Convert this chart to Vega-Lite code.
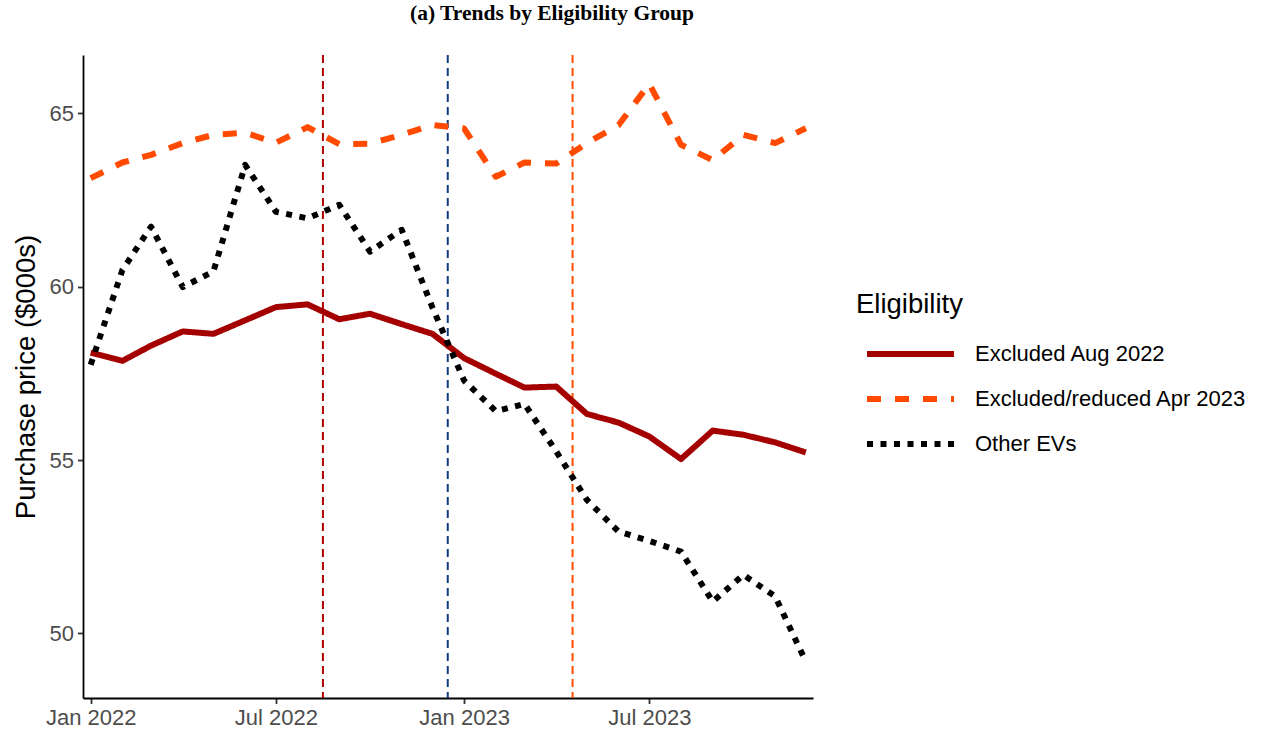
{
  "$schema": "https://vega.github.io/schema/vega-lite/v6.json",
  "width": 730,
  "height": 643,
  "autosize": {"type": "none"},
  "padding": {"left": 83, "top": 55, "right": 465, "bottom": 37},
  "background": "white",
  "config": {"view": {"stroke": null}, "font": "Liberation Sans"},
  "title": {
    "text": "(a) Trends by Eligibility Group",
    "font": "Liberation Serif",
    "fontSize": 21.5,
    "fontWeight": "bold",
    "color": "black",
    "anchor": "middle",
    "frame": "group",
    "dx": 104,
    "baseline": "alphabetic",
    "offset": 13
  },
  "datasets": {
    "series": [
      {"date": "2022-01-01", "group": "Excluded Aug 2022", "price": 58.10},
      {"date": "2022-02-01", "group": "Excluded Aug 2022", "price": 57.86},
      {"date": "2022-03-01", "group": "Excluded Aug 2022", "price": 58.30},
      {"date": "2022-04-01", "group": "Excluded Aug 2022", "price": 58.71},
      {"date": "2022-05-01", "group": "Excluded Aug 2022", "price": 58.64},
      {"date": "2022-06-01", "group": "Excluded Aug 2022", "price": 59.03},
      {"date": "2022-07-01", "group": "Excluded Aug 2022", "price": 59.41},
      {"date": "2022-08-01", "group": "Excluded Aug 2022", "price": 59.49},
      {"date": "2022-09-01", "group": "Excluded Aug 2022", "price": 59.06},
      {"date": "2022-10-01", "group": "Excluded Aug 2022", "price": 59.22},
      {"date": "2022-11-01", "group": "Excluded Aug 2022", "price": 58.92},
      {"date": "2022-12-01", "group": "Excluded Aug 2022", "price": 58.64},
      {"date": "2023-01-01", "group": "Excluded Aug 2022", "price": 57.94},
      {"date": "2023-02-01", "group": "Excluded Aug 2022", "price": 57.49},
      {"date": "2023-03-01", "group": "Excluded Aug 2022", "price": 57.09},
      {"date": "2023-04-01", "group": "Excluded Aug 2022", "price": 57.12},
      {"date": "2023-05-01", "group": "Excluded Aug 2022", "price": 56.33},
      {"date": "2023-06-01", "group": "Excluded Aug 2022", "price": 56.08},
      {"date": "2023-07-01", "group": "Excluded Aug 2022", "price": 55.68},
      {"date": "2023-08-01", "group": "Excluded Aug 2022", "price": 55.03},
      {"date": "2023-09-01", "group": "Excluded Aug 2022", "price": 55.85},
      {"date": "2023-10-01", "group": "Excluded Aug 2022", "price": 55.73},
      {"date": "2023-11-01", "group": "Excluded Aug 2022", "price": 55.51},
      {"date": "2023-12-01", "group": "Excluded Aug 2022", "price": 55.22},
      {"date": "2022-01-01", "group": "Excluded/reduced Apr 2023", "price": 63.13},
      {"date": "2022-02-01", "group": "Excluded/reduced Apr 2023", "price": 63.58},
      {"date": "2022-03-01", "group": "Excluded/reduced Apr 2023", "price": 63.80},
      {"date": "2022-04-01", "group": "Excluded/reduced Apr 2023", "price": 64.14},
      {"date": "2022-05-01", "group": "Excluded/reduced Apr 2023", "price": 64.38},
      {"date": "2022-06-01", "group": "Excluded/reduced Apr 2023", "price": 64.44},
      {"date": "2022-07-01", "group": "Excluded/reduced Apr 2023", "price": 64.15},
      {"date": "2022-08-01", "group": "Excluded/reduced Apr 2023", "price": 64.60},
      {"date": "2022-09-01", "group": "Excluded/reduced Apr 2023", "price": 64.11},
      {"date": "2022-10-01", "group": "Excluded/reduced Apr 2023", "price": 64.12},
      {"date": "2022-11-01", "group": "Excluded/reduced Apr 2023", "price": 64.38},
      {"date": "2022-12-01", "group": "Excluded/reduced Apr 2023", "price": 64.66},
      {"date": "2023-01-01", "group": "Excluded/reduced Apr 2023", "price": 64.56},
      {"date": "2023-02-01", "group": "Excluded/reduced Apr 2023", "price": 63.17},
      {"date": "2023-03-01", "group": "Excluded/reduced Apr 2023", "price": 63.58},
      {"date": "2023-04-01", "group": "Excluded/reduced Apr 2023", "price": 63.55},
      {"date": "2023-05-01", "group": "Excluded/reduced Apr 2023", "price": 64.14},
      {"date": "2023-06-01", "group": "Excluded/reduced Apr 2023", "price": 64.66},
      {"date": "2023-07-01", "group": "Excluded/reduced Apr 2023", "price": 65.85},
      {"date": "2023-08-01", "group": "Excluded/reduced Apr 2023", "price": 64.09},
      {"date": "2023-09-01", "group": "Excluded/reduced Apr 2023", "price": 63.65},
      {"date": "2023-10-01", "group": "Excluded/reduced Apr 2023", "price": 64.38},
      {"date": "2023-11-01", "group": "Excluded/reduced Apr 2023", "price": 64.14},
      {"date": "2023-12-01", "group": "Excluded/reduced Apr 2023", "price": 64.57},
      {"date": "2022-01-01", "group": "Other EVs", "price": 57.75},
      {"date": "2022-02-01", "group": "Other EVs", "price": 60.48},
      {"date": "2022-03-01", "group": "Other EVs", "price": 61.73},
      {"date": "2022-04-01", "group": "Other EVs", "price": 59.99},
      {"date": "2022-05-01", "group": "Other EVs", "price": 60.44},
      {"date": "2022-06-01", "group": "Other EVs", "price": 63.51},
      {"date": "2022-07-01", "group": "Other EVs", "price": 62.16},
      {"date": "2022-08-01", "group": "Other EVs", "price": 61.97},
      {"date": "2022-09-01", "group": "Other EVs", "price": 62.36},
      {"date": "2022-10-01", "group": "Other EVs", "price": 61.01},
      {"date": "2022-11-01", "group": "Other EVs", "price": 61.64},
      {"date": "2022-12-01", "group": "Other EVs", "price": 59.40},
      {"date": "2023-01-01", "group": "Other EVs", "price": 57.29},
      {"date": "2023-02-01", "group": "Other EVs", "price": 56.41},
      {"date": "2023-03-01", "group": "Other EVs", "price": 56.62},
      {"date": "2023-04-01", "group": "Other EVs", "price": 55.25},
      {"date": "2023-05-01", "group": "Other EVs", "price": 53.85},
      {"date": "2023-06-01", "group": "Other EVs", "price": 52.94},
      {"date": "2023-07-01", "group": "Other EVs", "price": 52.67},
      {"date": "2023-08-01", "group": "Other EVs", "price": 52.36},
      {"date": "2023-09-01", "group": "Other EVs", "price": 50.92},
      {"date": "2023-10-01", "group": "Other EVs", "price": 51.69},
      {"date": "2023-11-01", "group": "Other EVs", "price": 51.07},
      {"date": "2023-12-01", "group": "Other EVs", "price": 49.19}
    ],
    "events": [
      {"date": "2022-08-16", "event": "IRA enacted"},
      {"date": "2022-12-16", "event": "Guidance"},
      {"date": "2023-04-17", "event": "Battery rules"}
    ]
  },
  "encoding": {
    "x": {
      "field": "date",
      "type": "temporal",
      "scale": {
        "type": "utc",
        "domain": [
          {"year": 2021, "month": 12, "date": 24, "hours": 12, "utc": true},
          {"year": 2023, "month": 12, "date": 8, "utc": true}
        ],
        "nice": false
      },
      "axis": {
        "title": null,
        "tickCount": {"interval": "month", "step": 6},
        "labelExpr": "utcFormat(datum.value, '%b %Y')",
        "labelFontSize": 22,
        "labelColor": "#4D4D4D",
        "labelPadding": 4,
        "labelFlush": false,
        "labelOverlap": false,
        "tickSize": 5.5,
        "tickWidth": 1.8,
        "tickColor": "#333333",
        "domainColor": "black",
        "domainWidth": 1.8,
        "grid": false
      }
    }
  },
  "layer": [
    {
      "data": {"name": "events"},
      "transform": [{"filter": {"field": "event", "equal": "IRA enacted"}}],
      "mark": {"type": "rule", "strokeWidth": 2, "strokeDash": [8, 5], "color": "#B00000"},
      "encoding": {}
    },
    {
      "data": {"name": "events"},
      "transform": [{"filter": {"field": "event", "equal": "Guidance"}}],
      "mark": {"type": "rule", "strokeWidth": 2, "strokeDash": [8, 5], "color": "#123A7C"},
      "encoding": {}
    },
    {
      "data": {"name": "events"},
      "transform": [{"filter": {"field": "event", "equal": "Battery rules"}}],
      "mark": {"type": "rule", "strokeWidth": 2, "strokeDash": [8, 5], "color": "#FF4A00"},
      "encoding": {}
    },
    {
      "data": {"name": "series"},
      "mark": {"type": "line", "strokeWidth": 6, "strokeCap": "butt", "strokeJoin": "round"},
      "encoding": {
        "y": {
          "field": "price",
          "type": "quantitative",
          "scale": {"domain": [48.14, 66.68], "nice": false, "zero": false},
          "axis": {
            "values": [50, 55, 60, 65],
            "title": "Purchase price ($000s)",
            "titleFontSize": 27.5,
            "titleFontWeight": "normal",
            "titleColor": "black",
            "titlePadding": 9,
            "labelFontSize": 22,
            "labelColor": "#4D4D4D",
            "labelPadding": 4,
            "tickSize": 5.5,
            "tickWidth": 1.8,
            "tickColor": "#333333",
            "domainColor": "black",
            "domainWidth": 1.8,
            "grid": false
          }
        },
        "color": {
          "field": "group",
          "type": "nominal",
          "scale": {
            "domain": ["Excluded Aug 2022", "Excluded/reduced Apr 2023", "Other EVs"],
            "range": ["#A50000", "#FF4A00", "#000000"]
          },
          "legend": {
            "title": "Eligibility",
            "orient": "none",
            "legendX": 773,
            "legendY": 236,
            "titleFontSize": 27.5,
            "titleFontWeight": "normal",
            "titleColor": "black",
            "titlePadding": 18,
            "labelFontSize": 22,
            "labelColor": "black",
            "labelLimit": 400,
            "labelOffset": 47,
            "symbolOffset": 37,
            "symbolType": "M-3,0H3",
            "symbolSize": 841,
            "symbolStrokeWidth": 6,
            "rowPadding": 15
          }
        },
        "strokeDash": {
          "field": "group",
          "type": "nominal",
          "scale": {
            "domain": ["Excluded Aug 2022", "Excluded/reduced Apr 2023", "Other EVs"],
            "range": [[1, 0], [14, 14], [6, 7.5]]
          },
          "legend": {
            "title": "Eligibility",
            "orient": "none",
            "legendX": 773,
            "legendY": 236,
            "titleFontSize": 27.5,
            "titleFontWeight": "normal",
            "titleColor": "black",
            "titlePadding": 18,
            "labelFontSize": 22,
            "labelColor": "black",
            "labelLimit": 400,
            "labelOffset": 47,
            "symbolOffset": 37,
            "symbolType": "M-3,0H3",
            "symbolSize": 841,
            "symbolStrokeWidth": 6,
            "rowPadding": 15
          }
        }
      }
    }
  ]
}
